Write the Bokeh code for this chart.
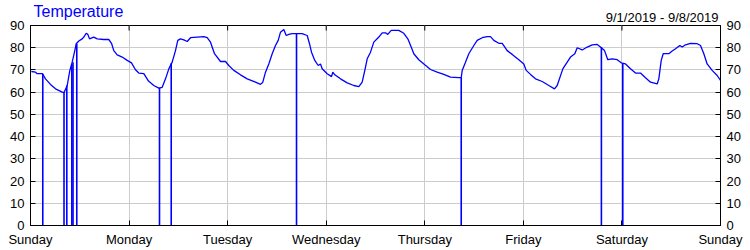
import math
from bokeh.plotting import figure
from bokeh.models import Range1d, LinearAxis, FixedTicker, Label, Title
from bokeh.embed import file_html
from bokeh.resources import INLINE

# Time in hours since Sunday 9/1/2019 00:00
hours = [0.2, 1.22, 1.63, 2.92, 3.65, 4.87, 6.09, 7.72, 8.16, 8.94, 9.57, 10.15, 10.79, 11.13,
         11.76, 12.59, 12.98, 13.56, 13.95, 14.37, 15.41, 16.24, 17.85, 19.06, 19.72, 20.28,
         21.11, 22.33, 23.54, 24.59, 25.56, 26.37, 27.59, 28.73, 30.02, 31.24, 32.07, 32.87,
         33.68, 34.50, 35.30, 35.86, 36.52, 37.33, 38.15, 38.96, 40.59, 42.20, 43.02, 43.83,
         44.80, 46.26, 47.48, 48.28, 49.50, 51.13, 52.76, 54.78, 56.00, 56.56, 57.22, 58.02,
         58.85, 59.65, 60.31, 60.87, 61.67, 62.26, 62.89, 63.72, 66.15, 67.37, 67.93, 68.42,
         69.22, 70.05, 70.61, 71.02, 72.24, 73.29, 73.60, 74.09, 75.48, 77.11, 78.72, 79.94,
         80.76, 81.40, 81.98, 82.78, 83.59, 84.81, 85.63, 86.44, 87.00, 87.82, 89.67, 90.89,
         91.87, 92.69, 93.33, 94.54, 96.00, 97.39, 99.02, 100.63, 102.26, 104.28, 104.87,
         105.11, 105.91, 106.72, 107.94, 108.76, 109.98, 111.20, 112.00, 112.81, 114.02,
         114.85, 116.07, 117.29, 118.89, 120.11, 120.69, 121.74, 122.96, 124.59, 126.20,
         127.58, 128.24, 129.61, 130.68, 131.48, 132.53, 133.11, 134.33, 135.55, 136.77,
         137.98, 138.78, 139.76, 140.56, 141.63, 142.85, 143.82, 144.87, 146.09, 147.30,
         148.52, 149.74, 150.96, 152.59, 152.98, 153.57, 154.05, 155.42, 156.24, 157.05,
         158.09, 158.68, 159.48, 160.70, 162.33, 163.13, 163.94, 164.75, 165.97, 167.19, 168.0]
temps = [69.3, 69.0, 68.3, 68.3, 66.0, 63.5, 61.5, 60.0, 59.8, 63.0, 69.7, 73.5, 78.7, 81.8,
         83.0, 84.0, 84.8, 86.5, 86.0, 84.0, 84.8, 84.0, 83.7, 83.7, 82.0, 78.7,
         76.8, 75.8, 74.3, 73.2, 70.1, 68.6, 68.3, 65.0, 63.0, 61.8, 62.2, 66.0,
         70.5, 73.5, 78.7, 83.3, 84.0, 83.5, 82.8, 84.5, 84.8, 85.0, 84.5, 82.5,
         77.3, 73.8, 73.8, 72.0, 69.8, 67.8, 66.0, 64.5, 63.5, 64.5, 69.0, 72.7,
         77.3, 81.0, 83.3, 87.0, 88.2, 85.5, 86.0, 86.3, 86.3, 85.5, 81.8, 78.0,
         74.3, 72.0, 72.7, 70.5, 68.3, 67.0, 69.0, 67.8, 66.0, 64.2, 63.0, 62.5,
         64.5, 69.8, 75.0, 78.0, 82.5, 84.8, 86.7, 86.7, 86.0, 87.8, 87.8, 86.5,
         84.0, 80.3, 77.3, 74.6, 72.3, 70.2, 69.0, 68.0, 66.8, 66.5, 66.5,
         69.8, 73.5, 77.3, 81.0, 83.3, 84.5, 85.0, 85.0, 83.3, 82.0,
         82.0, 78.7, 77.0, 74.6, 72.7, 69.8, 68.0, 66.0, 64.8, 63.0,
         61.5, 63.0, 70.5, 73.5, 75.8, 77.3, 80.0, 79.0, 80.3, 81.3,
         81.5, 80.3, 78.7, 74.6, 75.0, 74.6, 73.2, 72.7, 70.5, 68.6,
         68.6, 66.5, 64.5, 63.7, 66.0, 74.3, 77.3, 77.3, 78.5, 79.5,
         81.0, 80.3, 81.3, 82.0, 81.8, 81.0, 77.3, 72.7, 69.8, 67.5, 65.3]

# Sensor dropouts (reading fell to 0)
drop_hours = [2.99, 8.16, 8.84, 10.06, 10.35, 11.27, 31.41, 34.26, 64.77, 104.87, 139.0, 144.21]
drop_tops = [68.3, 60.0, 63.0, 72.7, 73.5, 81.8, 62.0, 73.0, 86.3, 66.5, 80.3, 73.0]

day_ticks = [0, 24, 48, 72, 96, 120, 144, 168]
day_labels = ["Sunday", "Monday", "Tuesday", "Wednesday", "Thursday", "Friday", "Saturday", "Sunday"]
y_ticks = [0, 10, 20, 30, 40, 50, 60, 70, 80, 90]

title_text = "Temperature"
date_text = "9/1/2019 - 9/8/2019"

FONT = "Liberation Sans"
BLUE = "#0000ff"

p = figure(width=750, height=250, frame_width=690, frame_height=200,
           x_range=Range1d(0, 168), y_range=Range1d(0, 90),
           output_backend="svg", toolbar_location=None, x_axis_location=None,
           y_axis_location=None, min_border_left=30, min_border_right=30,
           min_border_top=25, min_border_bottom=25)
p.title_location = None
p.outline_line_color = "black"
p.outline_line_width = 1
p.background_fill_color = "white"
p.border_fill_color = "white"

def style_axis(ax, ticks, overrides=None):
    ax.ticker = FixedTicker(ticks=ticks)
    ax.major_tick_in = 5
    ax.major_tick_out = 0
    ax.minor_tick_line_color = None
    ax.axis_line_color = "black"
    ax.major_tick_line_color = "black"
    ax.major_label_standoff = 6
    ax.major_label_text_font = FONT
    ax.major_label_text_font_size = "13px"
    ax.major_label_text_color = "black"
    if overrides:
        ax.major_label_overrides = overrides

left = LinearAxis()
style_axis(left, y_ticks)
p.add_layout(left, "left")
right = LinearAxis()
style_axis(right, y_ticks)
p.add_layout(right, "right")
bottom = LinearAxis()
style_axis(bottom, day_ticks, {t: l for t, l in zip(day_ticks, day_labels)})
p.add_layout(bottom, "below")

p.xgrid.ticker = FixedTicker(ticks=day_ticks)
p.ygrid.ticker = FixedTicker(ticks=y_ticks)
for g in (p.xgrid, p.ygrid):
    g.grid_line_color = "#cccccc"
    g.grid_line_width = 1

# inward tick marks along the top edge of the frame
p.ray(x=day_ticks, y=[90] * len(day_ticks), length=5, length_units="screen",
      angle=-math.pi / 2, line_color="black", line_width=1)

p.line(hours, temps, line_color=BLUE, line_width=1.3)
p.segment(x0=drop_hours, y0=[0] * len(drop_hours), x1=drop_hours, y1=drop_tops,
          line_color=BLUE, line_width=1.6)

# date range label (inner panel) and title (outer panel)
p.add_layout(Label(x=168, y=90, text=date_text, x_offset=-2, y_offset=8,
                   text_font=FONT, text_font_size="13px", text_color="black",
                   text_baseline="alphabetic", text_align="right"), "above")
p.add_layout(Title(text=title_text, align="left", offset=3, vertical_align="bottom", standoff=-19,
                   text_font=FONT, text_font_size="16px", text_font_style="normal",
                   text_color=BLUE), "above")

open("out.html", "w").write(file_html(p, INLINE))
